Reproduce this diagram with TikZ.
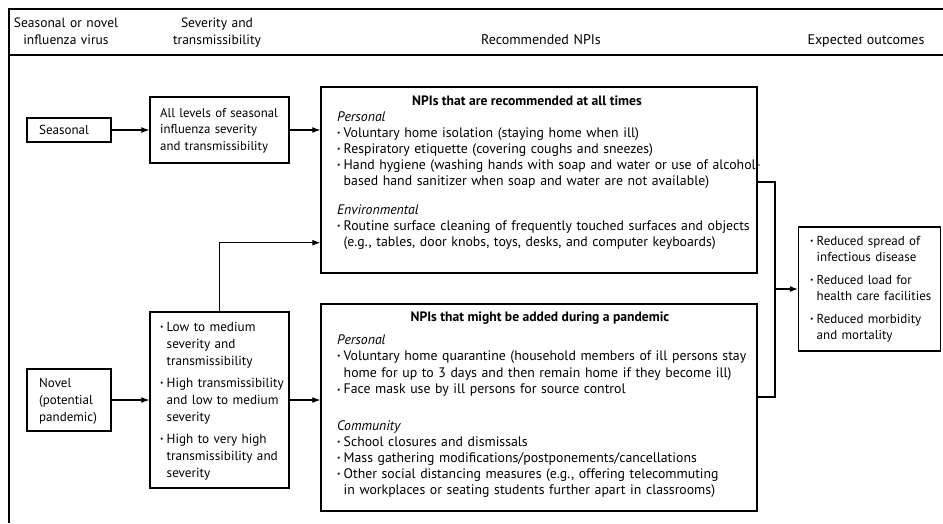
\documentclass[tikz,border=0pt]{standalone}
\usepackage{fontspec}
\setmainfont{PT Sans}
\usetikzlibrary{arrows.meta,calc}
\newcommand\bu{\makebox[6.5pt][l]{\raisebox{0.25ex}{\fontsize{7.5}{7.5}\selectfont\textbullet}}}
\newcommand\ind{\hspace*{6.5pt}}
\newcommand\fs[2]{\fontsize{#1}{#2}\selectfont}
\begin{document}
\begin{tikzpicture}[x=1pt,y=-1pt,
  box/.style={draw=black,line width=1.4pt,inner sep=0pt},
  conn/.style={line width=1.1pt,-{Latex[length=8pt,width=6pt]}},
  plain/.style={line width=1.1pt},
  frame/.style={line width=1.5pt},
  txt/.style={anchor=base west,inner sep=0pt,text width=460pt,align=left,
    font=\fs{13}{16.2},execute at begin node={\parindent=0pt}},
  hdr/.style={anchor=base,inner sep=0pt,text width=170pt,align=center,font=\fs{13.5}{17}},
  ttl/.style={anchor=base,inner sep=0pt,font=\fs{13.6}{16}\bfseries},
  npi/.style={txt,font=\fs{13.8}{16}},
]
\useasboundingbox (0,0) rectangle (943,523);
% frame
\draw[frame] (9,523) -- (9,9) -- (943,9);
\draw[frame] (9,55) -- (943,55);
% headers
\node[hdr] (h1) at (66,27) {Seasonal or novel\\influenza virus};
\node[hdr] (h2) at (217,27) {Severity and\\transmissibility};
\node[hdr,font=\fs{14}{17}] (h3) at (541,44) {Recommended NPIs};
\node[hdr,font=\fs{14}{17}] (h4) at (866,44) {Expected outcomes};
% boxes
\node[box,minimum width=84pt,minimum height=24pt] (seasonal) at (69,130) {};
\node[box,minimum width=139pt,minimum height=66pt] (alllev) at (219.5,130) {};
\node[box,minimum width=84pt,minimum height=62pt] (novel) at (69,400) {};
\node[box,minimum width=139pt,minimum height=176pt] (lowbox) at (219.5,400) {};
\node[box,minimum width=436pt,minimum height=186pt] (npitop) at (539,180) {};
\node[box,minimum width=436pt,minimum height=207pt] (npibot) at (539,407.5) {};
\node[box,minimum width=142pt,minimum height=124pt] (outc) at (869.5,289) {};
% texts
\node[txt] (tseas) at (39,134) {Seasonal};
\node[txt,font=\fs{12.8}{16.5}] (tall) at (160,117) {All levels of seasonal\\influenza severity\\and transmissibility};
\node[txt,font=\fs{13}{17}] (tnov) at (39,387) {Novel\\(potential\\pandemic)};
\node[txt,font=\fs{13.2}{17}] (tlow) at (160,331) {\bu Low to medium\\\ind severity and\\\ind transmissibility\\[5pt]\bu High transmissibility\\\ind and low to medium\\\ind severity\\[5pt]\bu High to very high\\\ind transmissibility and\\\ind severity};
\node[ttl] (ttop) at (527,105) {NPIs that are recommended at all times};
\node[npi] (ttop1) at (337,121) {\textit{Personal}\\\bu Voluntary home isolation (staying home when ill)\\\bu Respiratory etiquette (covering coughs and sneezes)\\\bu Hand hygiene (washing hands with soap and water or use of alcohol-\\\ind based hand sanitizer when soap and water are not available)};
\node[npi] (ttop2) at (337,214) {\textit{Environmental}\\\bu Routine surface cleaning of frequently touched surfaces and objects\\\ind (e.g., tables, door knobs, toys, desks, and computer keyboards)};
\node[ttl] (tbot) at (540,321) {NPIs that might be added during a pandemic};
\node[npi,font=\fs{13.8}{16.6}] (tbot1) at (337,344) {\textit{Personal}\\\bu Voluntary home quarantine (household members of ill persons stay\\\ind home for up to 3 days and then remain home if they become ill)\\\bu Face mask use by ill persons for source control};
\node[npi] (tbot2) at (337,430) {\textit{Community}\\\bu School closures and dismissals\\\bu Mass gathering modifications/postponements/cancellations\\\bu Other social distancing measures (e.g., offering telecommuting\\\ind in workplaces or seating students further apart in classrooms)};
\node[txt,font=\fs{13}{16.5}] (tout) at (810,245) {\bu Reduced spread of\\\ind infectious disease\\[6pt]\bu Reduced load for\\\ind health care facilities\\[6pt]\bu Reduced morbidity\\\ind and mortality};
% connectors
\draw[conn] (seasonal.east) -- (alllev.west);
\draw[conn] (alllev.east) -- (alllev.east -| npitop.west);
\draw[conn] (novel.east) -- (novel.east -| lowbox.west);
\draw[conn] (lowbox.east) -- (lowbox.east -| npibot.west);
\draw[conn] (lowbox.north) |- ([yshift=31pt]npitop.south west);
\coordinate (brk) at (775,289);
\draw[plain] ([yshift=-2pt]npitop.east) -| (brk) |- ([yshift=10.5pt]npibot.east);
\draw[conn] (brk) -- (outc.west);
\end{tikzpicture}
\end{document}
